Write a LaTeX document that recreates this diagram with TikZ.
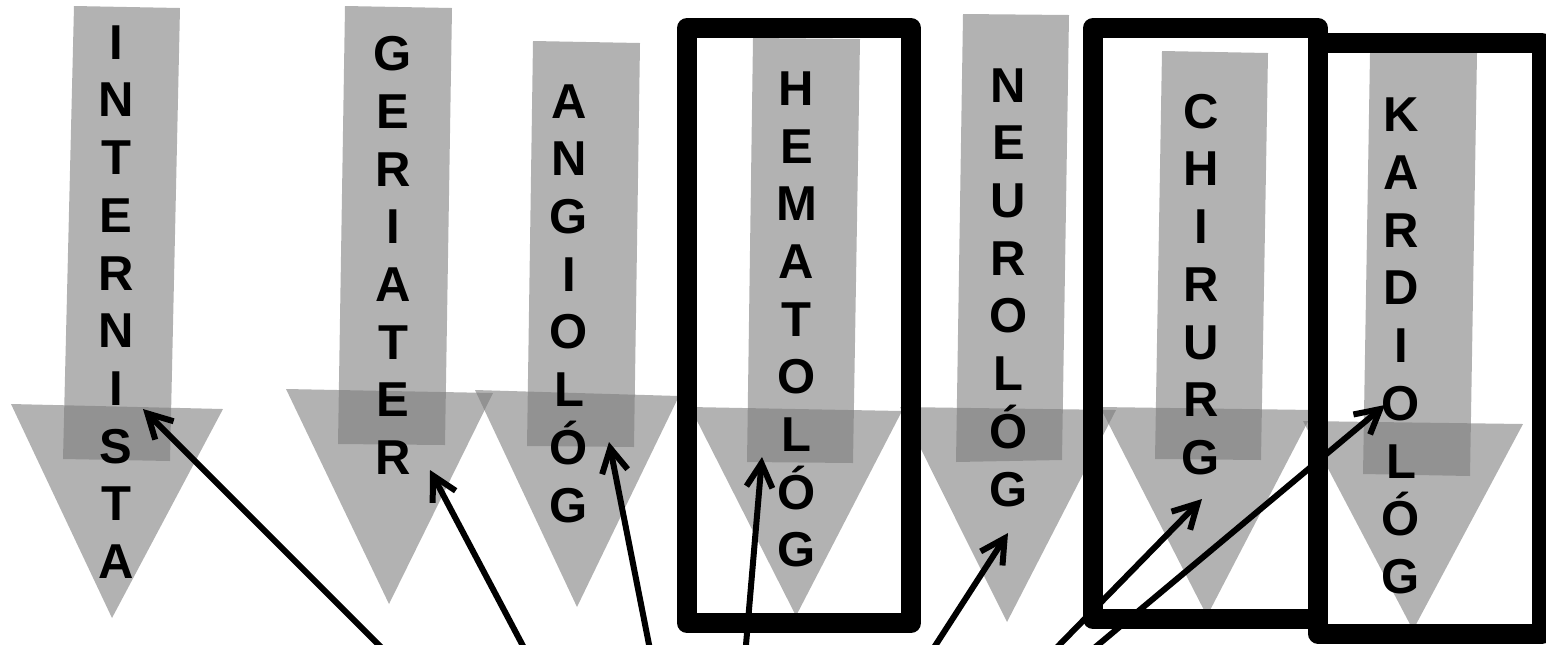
\documentclass[tikz,border=0pt]{standalone}
\usepackage{fontspec}
\setmainfont{Liberation Sans}
\usetikzlibrary{arrows.meta}
\definecolor{medgray}{RGB}{123,123,123}
\tikzset{
  band/.style={fill=medgray, fill opacity=0.58},
  word/.style={font=\bfseries\fontsize{24.5}{28.85}\selectfont, align=center, inner sep=0pt, text=black},
  frame/.style={draw=black, line width=10pt, line join=round},
  ptr/.style={-{Straight Barb[length=12pt,width=13pt]}, line width=3pt, color=black},
}

\begin{document}
\begin{tikzpicture}[x=0.5pt, y=-0.5pt]
  \useasboundingbox (0,0) rectangle (1546,644);
  \clip (0,0) rectangle (1546,644);

  % grey down arrows: shaft corners, then head corners
  \foreach \sa/\sb/\sc/\sd/\ha/\hb/\hc in {
      {74,6}/{180,8}/{170,461}/{63,459}/{11,404}/{223,409}/{112,618},
      {345,6}/{452,8}/{445,445}/{338,444}/{286,389}/{493,393}/{389,604},
      {533,41}/{640,43}/{634,447}/{527,446}/{475,390}/{679,396}/{577,607},
      {753,38}/{860,39}/{853,463}/{747,462}/{690,407}/{902,411}/{796,616},
      {963,14}/{1069,15}/{1062,460}/{956,462}/{900,407}/{1116,410}/{1007,622},
      {1162,51}/{1268,53}/{1261,460}/{1155,459}/{1100,407}/{1314,410}/{1207,616},
      {1370,53}/{1477,53}/{1470,476}/{1363,474}/{1303,421}/{1523,424}/{1413,630}} {
    \fill[band] (\sa) -- (\sb) -- (\sc) -- (\sd) -- cycle;
    \fill[band] (\ha) -- (\hb) -- (\hc) -- cycle;
  }

  % frames
  \draw[frame] (687,28) rectangle (911,623);
  \draw[frame] (1318,43) rectangle (1542,633.5);
  \draw[frame] (1093,28) rectangle (1318,619);

  % vertical words
  \node[word] (internista) at (116,302)  {I\\N\\T\\E\\R\\N\\I\\S\\T\\A};
  \node[word] (geriater)   at (393,255.5) {G\\E\\R\\I\\A\\T\\E\\R};
  \node[word] (angiolog)   at (569,303.5) {A\\N\\G\\I\\O\\L\\Ó\\G};
  \node[word] (hematolog)  at (796.5,319.5) {H\\E\\M\\A\\T\\O\\L\\Ó\\G};
  \node[word] (neurolog)   at (1008.5,287.5) {N\\E\\U\\R\\O\\L\\Ó\\G};
  \node[word] (chirurg)    at (1201,284.5) {C\\H\\I\\R\\U\\R\\G};
  \node[word] (kardiolog)  at (1401,346)  {K\\A\\R\\D\\I\\O\\L\\Ó\\G};

  % pointers coming from below the page
  \coordinate (p1) at (414,680);  \coordinate (t1) at (143,409);
  \coordinate (p2) at (541,680);  \coordinate (t2) at (430,470);
  \coordinate (p3) at (656,680);  \coordinate (t3) at (609,442);
  \coordinate (p4) at (743,680);  \coordinate (t4) at (762,457);
  \coordinate (p5) at (913,680);  \coordinate (t5) at (1008,533);
  \coordinate (p6) at (1025,680); \coordinate (t6) at (1202,499);
  \coordinate (p7) at (1056,680); \coordinate (t7) at (1385,405);
  \foreach \i in {1,...,7}
    \draw[ptr] (p\i) -- (t\i);
\end{tikzpicture}
\end{document}
